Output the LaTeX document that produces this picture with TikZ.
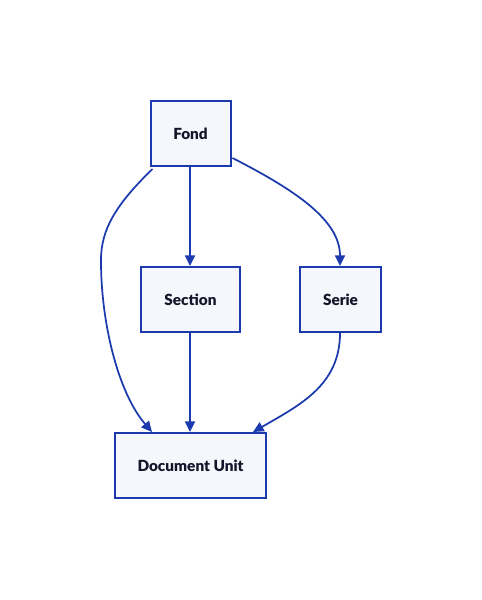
\documentclass[tikz,border=0pt]{standalone}
\usepackage{fontspec}
\setmainfont{Lato}[BoldFont={Lato Black}]
\usetikzlibrary{arrows.meta}
\definecolor{edgeblue}{HTML}{1B3AAE}
\definecolor{boxfill}{HTML}{F5F7FC}
\definecolor{txt}{HTML}{14142A}
\tikzset{
  box/.style={draw=edgeblue, line width=1.5pt, fill=boxfill, minimum height=48.75pt,
    inner sep=0pt, font=\bfseries\fontsize{11.5}{13}\selectfont, text=txt},
  link/.style={draw=edgeblue, line width=1.3pt, -{Triangle[length=8pt,width=7.5pt]}}
}
\begin{document}
\begin{tikzpicture}[x=0.75pt,y=-0.75pt]
\useasboundingbox (0,0) rectangle (482,600);
\node[box, minimum width=60pt] (fond) at (190.5,133.5) {Fond};
\node[box, minimum width=74.25pt] (section) at (190.5,299.5) {Section};
\node[box, minimum width=60.75pt] (serie) at (340.5,299.5) {Serie};
\node[box, minimum width=113.25pt] (doc) at (190.5,465.5) {Document Unit};
\coordinate (fsw) at ([xshift=2.25pt,yshift=-1.5pt]fond.south west);
\coordinate (fe) at ([xshift=0.75pt,yshift=6.75pt]fond.south east);
\coordinate (dl) at ([xshift=28.5pt]doc.north west);
\coordinate (dr) at ([xshift=-10.5pt]doc.north east);
\coordinate (fs) at ([xshift=-0.375pt]fond.south);
\coordinate (sn) at ([xshift=-0.375pt]section.north);
\coordinate (ss) at ([xshift=-0.375pt]section.south);
\coordinate (dn) at ([xshift=-0.375pt]doc.north);
\coordinate (rs) at ([xshift=-0.375pt]serie.south);
\coordinate (rn) at ([xshift=-0.375pt]serie.north);
\draw[link] (fs) -- (sn);
\draw[link] (ss) -- (dn);
\draw[link] (fsw) .. controls (110,210) and (100,235) .. (101,265) .. controls (102,330) and (120,395) .. (dl);
\draw[link] (fe) .. controls (295,190) and (340,220) .. (rn);
\draw[link] (rs) .. controls (340,385) and (300,405) .. (dr);
\end{tikzpicture}
\end{document}
